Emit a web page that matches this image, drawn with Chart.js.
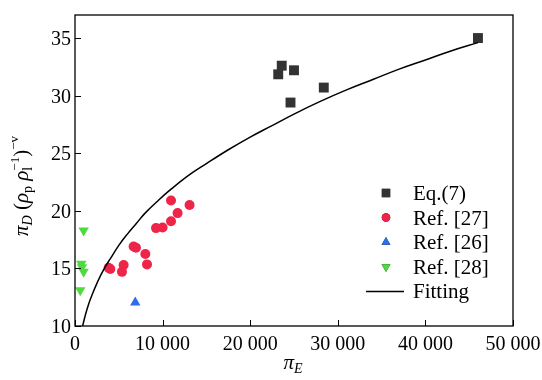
<!DOCTYPE html>
<html><head><meta charset="utf-8">
<script src="https://cdn.jsdelivr.net/npm/chart.js@4/dist/chart.umd.min.js"></script>
</head><body style="margin:0;background:#fff">
<div style="width:542px;height:380px"><canvas id="c" width="542" height="380"></canvas></div>
<script>
// ---- data ----
const eq7X = [46000, 23600, 23200, 25000, 28400, 24600];
const eq7Y = [35.0, 32.6, 31.85, 32.2, 30.7, 29.4];
const ref27X = [3840, 4030, 5360, 5550, 6690, 6960, 8030, 8220, 9250, 10000, 10960, 11710, 10960, 13080];
const ref27Y = [15.06, 14.95, 14.7, 15.3, 16.9, 16.8, 16.25, 15.35, 18.5, 18.55, 19.1, 19.8, 20.9, 20.5];
const ref26X = [6880];
const ref26Y = [12.05];
const ref28X = [985, 720, 800, 985, 600];
const ref28Y = [18.3, 15.4, 15.1, 14.7, 13.1];
const fitX = [870, 1200, 1600, 2000, 2500, 3000, 3500, 4000, 5000, 6000, 7000, 8000, 9500, 11000, 13000, 15000, 17500, 20000, 22500, 25000, 28000, 31000, 34000, 37000, 40000, 43000, 46000];
const fitY = [10, 11.0, 12.0, 12.8, 13.7, 14.5, 15.2, 15.8, 17.0, 18.0, 18.9, 19.8, 20.9, 21.9, 23.1, 24.1, 25.3, 26.4, 27.4, 28.4, 29.5, 30.5, 31.4, 32.3, 33.1, 33.9, 34.6];
const xTicks = [0, 10000, 20000, 30000, 40000, 50000];
const xTickLabels = ['0', '10 000', '20 000', '30 000', '40 000', '50 000'];
const yTicks = [10, 15, 20, 25, 30, 35];
const legendLabels = ['Eq.(7)', 'Ref. [27]', 'Ref. [26]', 'Ref. [28]', 'Fitting'];

const zip = (xs, ys) => xs.map((x, i) => ({x, y: ys[i]}));
const C_SQ = '#333333', C_RED = '#EE2549', C_BLUE = '#2D6FEA', C_GREEN = '#4DDB3F';
const FAM = '"Liberation Serif", Tinos, "Times New Roman", serif';

const datasets = [
  {label: legendLabels[0], data: zip(eq7X, eq7Y), pointStyle: 'rect', pointRadius: 7, backgroundColor: C_SQ, borderColor: C_SQ, borderWidth: 0},
  {label: legendLabels[1], data: zip(ref27X, ref27Y), pointStyle: 'circle', pointRadius: 5, backgroundColor: C_RED, borderColor: C_RED, borderWidth: 0},
  {label: legendLabels[2], data: zip(ref26X, ref26Y), pointStyle: 'triangle', pointRadius: 6, backgroundColor: C_BLUE, borderColor: C_BLUE, borderWidth: 0},
  {label: legendLabels[3], data: zip(ref28X, ref28Y), pointStyle: 'triangle', rotation: 180, pointRadius: 6, backgroundColor: C_GREEN, borderColor: C_GREEN, borderWidth: 0},
  {label: legendLabels[4], data: zip(fitX, fitY), showLine: true, pointRadius: 0, borderColor: '#000', borderWidth: 1.5, backgroundColor: '#000', tension: 0.4, order: -1}
];

function setFont(ctx, sz, it) { ctx.font = (it ? 'italic ' : 'normal ') + '400 ' + sz + 'px ' + FAM; }

function drawRich(ctx, segs, x, y) {
  let total = 0;
  segs.forEach(s => { setFont(ctx, s.sz, s.it); s.w = ctx.measureText(s.t).width; if (!s.stack) total += s.w; });
  let cx = x - total / 2, prevW = 0;
  segs.forEach(s => {
    setFont(ctx, s.sz, s.it);
    if (s.stack) { ctx.fillText(s.t, cx - prevW, y + (s.dy || 0)); }
    else { ctx.fillText(s.t, cx, y + (s.dy || 0)); cx += s.w; prevW = s.w; }
  });
}

const MID = 7;

const deco = {
  id: 'deco',
  afterDraw(chart) {
    const ctx = chart.ctx, a = chart.chartArea, xs = chart.scales.x, ys = chart.scales.y;
    ctx.save();
    ctx.textBaseline = 'alphabetic';
    ctx.strokeStyle = '#000'; ctx.lineWidth = 1.3;
    ctx.strokeRect(a.left, a.top, a.right - a.left, a.bottom - a.top);
    ctx.lineWidth = 1;
    ctx.beginPath();
    xTicks.forEach(v => { const p = Math.round(xs.getPixelForValue(v)) + 0.5; ctx.moveTo(p, a.bottom); ctx.lineTo(p, a.bottom - 6); });
    yTicks.forEach(v => { const p = Math.round(ys.getPixelForValue(v)) + 0.5; ctx.moveTo(a.left, p); ctx.lineTo(a.left + 6, p); });
    ctx.stroke();
    ctx.fillStyle = '#000';
    setFont(ctx, 20, false);
    ctx.textAlign = 'center';
    xTicks.forEach((v, i) => ctx.fillText(xTickLabels[i], xs.getPixelForValue(v), a.bottom + 17 + MID));
    ctx.textAlign = 'right';
    yTicks.forEach(v => ctx.fillText(String(v), a.left - 4, ys.getPixelForValue(v) + MID));
    ctx.textAlign = 'left';
    drawRich(ctx, [{t: 'π', it: true, sz: 21}, {t: 'E', it: true, sz: 14, dy: 4}], 293, 369);
    ctx.save();
    ctx.translate(28, 186);
    ctx.rotate(-Math.PI / 2);
    drawRich(ctx, [
      {t: 'π', it: true, sz: 21}, {t: 'D', it: true, sz: 14, dy: 4},
      {t: ' (', sz: 21}, {t: 'ρ', it: true, sz: 21}, {t: 'p', sz: 14, dy: 4},
      {t: ' ρ', it: true, sz: 21}, {t: '−1', sz: 13, dy: -9}, {t: 'l', sz: 14, dy: 4, stack: true},
      {t: ')', sz: 21}, {t: '−v', sz: 13, dy: -10}
    ], 0, 0);
    ctx.restore();
    const lx = 386, tx = 413, ly0 = 193, dy = 24.6;
    ctx.textAlign = 'left';
    chart.data.datasets.forEach((ds, i) => {
      const ly = ly0 + i * dy;
      ctx.fillStyle = '#000';
      setFont(ctx, 21, false);
      ctx.fillText(ds.label, tx, ly + MID);
      if (i === 4) {
        ctx.strokeStyle = '#000'; ctx.lineWidth = 1.5;
        ctx.beginPath(); ctx.moveTo(366, ly); ctx.lineTo(404, ly); ctx.stroke();
      } else {
        Chart.helpers.drawPoint(ctx, {pointStyle: ds.pointStyle, rotation: ds.rotation || 0, radius: ds.pointRadius * 0.85, borderWidth: 0}, lx, ly);
        ctx.fillStyle = ds.backgroundColor;
        ctx.fill();
      }
    });
    ctx.restore();
  }
};

new Chart(document.getElementById('c'), {
  type: 'scatter',
  data: {datasets},
  options: {
    responsive: false, animation: false,
    layout: {padding: {left: 0, top: 15, right: 29, bottom: 0}},
    plugins: {legend: {display: false}, tooltip: {enabled: false}},
    scales: {
      x: {type: 'linear', min: 0, max: 50000, grid: {display: false}, border: {display: false},
          ticks: {display: false}, afterFit(s) { s.height = 54; }},
      y: {type: 'linear', min: 10, max: 37, grid: {display: false}, border: {display: false},
          ticks: {display: false}, afterFit(s) { s.width = 75; }}
    }
  },
  plugins: [deco]
});
</script>
</body></html>
